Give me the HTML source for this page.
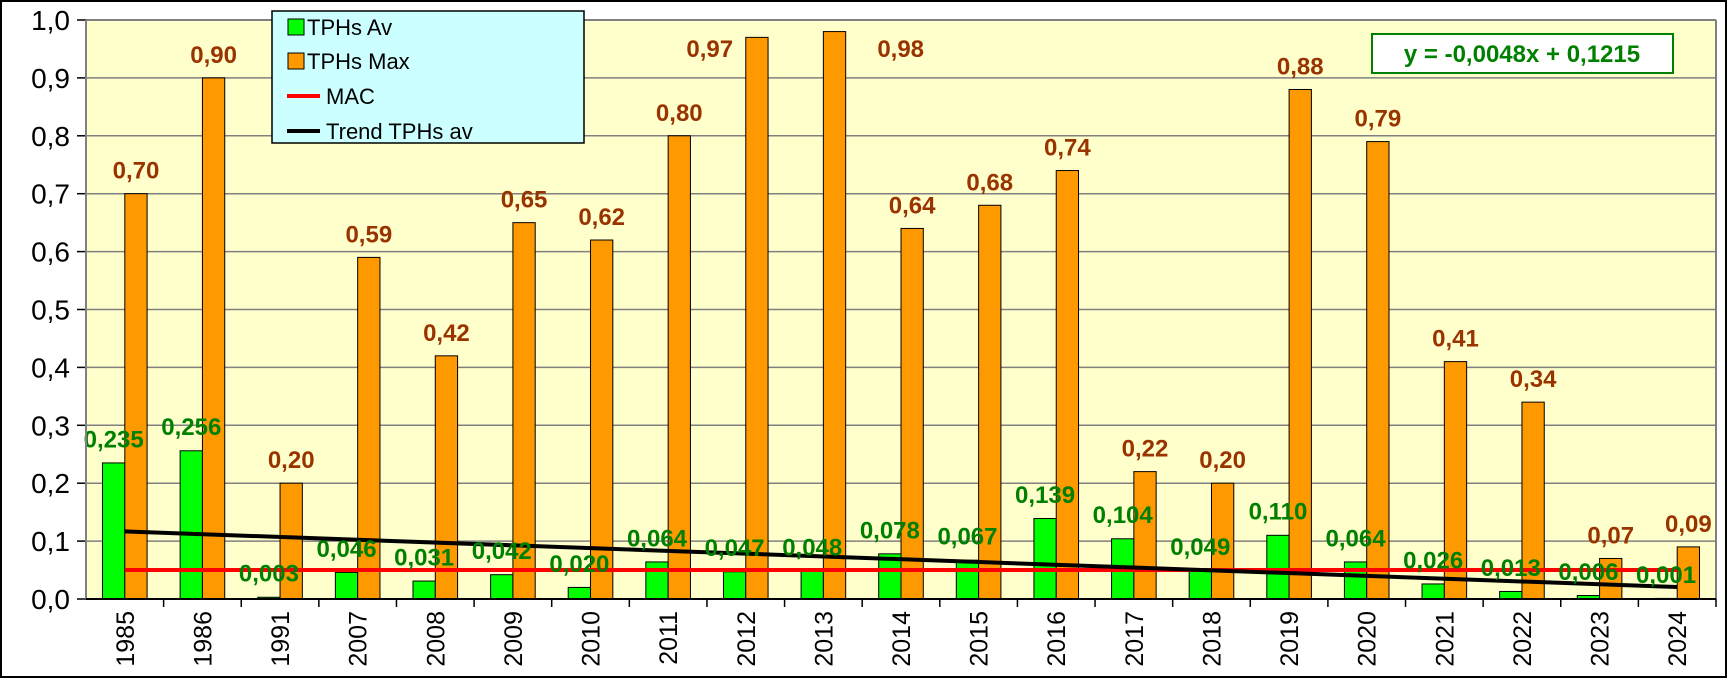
<!DOCTYPE html>
<html><head><meta charset="utf-8"><style>
html,body{margin:0;padding:0;background:#fff}
svg{display:block;font-family:"Liberation Sans",Arial,sans-serif}
</style></head><body>
<svg id="chart" width="1727" height="678" viewBox="0 0 1727 678">
<rect x="1" y="1" width="1725" height="676" fill="#fff" stroke="#000" stroke-width="2"/>
<rect x="86" y="20" width="1630" height="579" fill="#FFFFCC"/>
<g id="grid"></g><g id="bars"></g><g id="lines"></g><g id="labels"></g><g id="axes"></g>
<g>
<rect x="272" y="11" width="312" height="132" fill="#CCFFFF" stroke="#000" stroke-width="1.5"/>
<rect x="288" y="19" width="16" height="16" fill="#00FF00" stroke="#000"/>
<text x="307" y="35" font-size="22">TPHs Av</text>
<rect x="288" y="53" width="16" height="16" fill="#FF9900" stroke="#000"/>
<text x="307" y="69" font-size="22">TPHs Max</text>
<line x1="287" y1="96" x2="320" y2="96" stroke="#FF0000" stroke-width="4"/>
<text x="326" y="104" font-size="22">MAC</text>
<line x1="287" y1="131" x2="320" y2="131" stroke="#000" stroke-width="4"/>
<text x="326" y="139" font-size="22">Trend TPHs av</text>
</g>
<g>
<rect x="1372" y="34" width="301" height="39" fill="#fff" stroke="#008000" stroke-width="2"/>
<text x="1522" y="62" font-size="24" font-weight="bold" fill="#008000" text-anchor="middle">y = -0,0048x + 0,1215</text>
</g>
</svg>
<script>
const years=["1985","1986","1991","2007","2008","2009","2010","2011","2012","2013","2014","2015","2016","2017","2018","2019","2020","2021","2022","2023","2024"];
const avValues=[0.235,0.256,0.003,0.046,0.031,0.042,0.020,0.064,0.047,0.048,0.078,0.067,0.139,0.104,0.049,0.110,0.064,0.026,0.013,0.006,0.001];
const maxValues=[0.70,0.90,0.20,0.59,0.42,0.65,0.62,0.80,0.97,0.98,0.64,0.68,0.74,0.22,0.20,0.88,0.79,0.41,0.34,0.07,0.09];
const macValue=0.05;
const trendSlope=-0.0048, trendIntercept=0.1215;
const yTicks=[0,0.1,0.2,0.3,0.4,0.5,0.6,0.7,0.8,0.9,1.0];
const NS="http://www.w3.org/2000/svg";
const L=86,R=1716,T=20,B=599;
const cw=(R-L)/years.length, bw=22.3;
const y=v=>B-(v/1.0)*(B-T);
const cx=i=>L+cw*(i+0.5);
function mk(p,tag,at){const e=document.createElementNS(NS,tag);for(const k in at)e.setAttribute(k,at[k]);document.getElementById(p).appendChild(e);return e;}
const fmt=(v,d)=>v.toFixed(d).replace('.',',');
yTicks.forEach(t=>{
 if(t>0){const g=mk('grid','line',{x1:L,x2:R,y1:y(t),y2:y(t),stroke:'#808080','stroke-width':1.5});
 
 }
 const tk=mk('axes','line',{x1:L-9,x2:L,y1:y(t),y2:y(t),stroke:'#000','stroke-width':1.5});
 
 
 const tx=mk('axes','text',{x:L-16,y:y(t)+10,'font-size':28,'text-anchor':'end'});tx.textContent=fmt(t,1);
 
 
});
mk('axes','line',{x1:L,x2:R,y1:T,y2:T,stroke:'#808080','stroke-width':2});
mk('axes','line',{x1:R,x2:R,y1:T,y2:B,stroke:'#808080','stroke-width':2});
mk('axes','line',{x1:L,x2:L,y1:T,y2:B,stroke:'#808080','stroke-width':2});
mk('axes','line',{x1:L,x2:R,y1:B,y2:B,stroke:'#000','stroke-width':2});
let overflowCount=0;
years.forEach((yr,i)=>{
 const tk=mk('axes','line',{x1:L+cw*(i+1),x2:L+cw*(i+1),y1:B,y2:B+8,stroke:'#000','stroke-width':1.5});
 
 
 const c=cx(i);
 const tx=mk('axes','text',{x:0,y:0,'font-size':25,'text-anchor':'end',transform:`translate(${c+9},${B+12}) rotate(-90)`});tx.textContent=yr;
 
 
 const a=avValues[i],m=maxValues[i];
 const ga=mk('bars','rect',{x:c-bw,y:y(a),width:bw,height:B-y(a),fill:'#00FF00',stroke:'#000','stroke-width':1});
 
 
 const gm=mk('bars','rect',{x:c,y:y(m),width:bw,height:B-y(m),fill:'#FF9900',stroke:'#000','stroke-width':1});
 
 
 const la=mk('labels','text',{x:c-bw/2,y:y(a+0.02)-4,'font-size':24,'font-weight':'bold',fill:'#008000','text-anchor':'middle'});la.textContent=fmt(a,3);
 
 
 let lx=c+bw/2, ly=y(m)-15;
 if(ly<T+24){ly=y(0.95)+8; lx=(overflowCount%2===0)?c-36:c+bw+55; overflowCount++;}
 const lm=mk('labels','text',{x:lx,y:ly,'font-size':24,'font-weight':'bold',fill:'#993300','text-anchor':'middle'});lm.textContent=fmt(m,2);
 
 
});
const mac=mk('lines','line',{x1:cx(0),x2:cx(years.length-1),y1:y(macValue),y2:y(macValue),stroke:'#FF0000','stroke-width':4});


const n=years.length;
const tr=mk('lines','line',{x1:cx(0),x2:cx(n-1),y1:y(trendIntercept+trendSlope*1),y2:y(trendIntercept+trendSlope*n),stroke:'#000','stroke-width':4});


</script>
</body></html>
